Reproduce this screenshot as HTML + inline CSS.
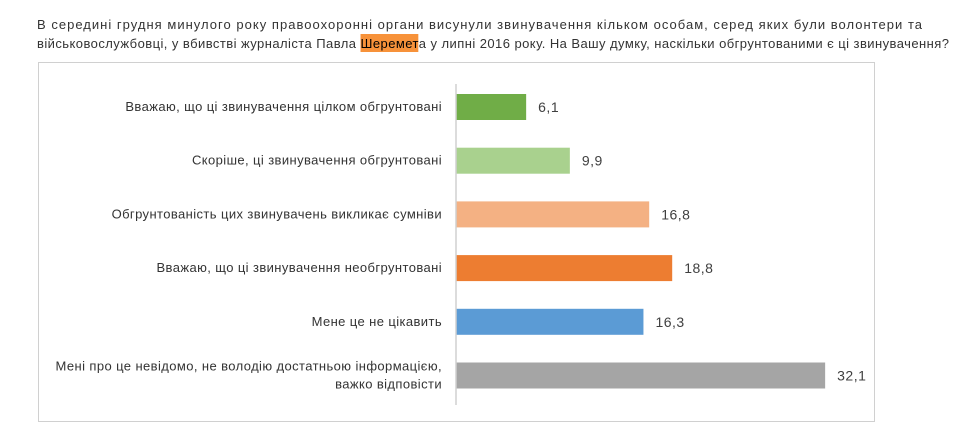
<!DOCTYPE html>
<html><head><meta charset="utf-8"><style>
body{margin:0;width:964px;height:435px;background:#fff;font-family:"Liberation Sans",sans-serif;overflow:hidden;position:relative}
#box{position:absolute;left:38px;top:62px;width:837px;height:360px;border:1px solid #d0d0d0;box-sizing:border-box}
</style></head><body>
<div id="box"></div>
<svg id="chart" width="964" height="435" style="position:absolute;left:0;top:0">
<rect id="hl" x="0" y="34" width="0" height="18" fill="#f7923a"/>
<text font-size="13" fill="#333">
<tspan id="t1" x="37" y="29" textLength="885" lengthAdjust="spacing">В середині грудня минулого року правоохоронні органи висунули звинувачення кільком особам, серед яких були волонтери та</tspan>
<tspan id="t2" x="37" y="48" textLength="912" lengthAdjust="spacing">військовослужбовці, у вбивстві журналіста Павла <tspan id="nm" fill="#000">Шеремет</tspan>а у липні 2016 року. На Вашу думку, наскільки обгрунтованими є ці звинувачення?</tspan>
</text>
</svg>
<script>
const categories=[["Вважаю, що ці звинувачення цілком обгрунтовані"],["Скоріше, ці звинувачення обгрунтовані"],["Обгрунтованість цих звинувачень викликає сумніви"],["Вважаю, що ці звинувачення необгрунтовані"],["Мене це не цікавить"],["Мені про це невідомо, не володію достатньою інформацією,","важко відповісти"]];
const values=[6.1,9.9,16.8,18.8,16.3,32.1];
const labels=["6,1","9,9","16,8","18,8","16,3","32,1"];
const colors=["#70ad47","#a9d18e","#f4b183","#ed7d31","#5b9bd5","#a5a5a5"];
const svg=document.getElementById('chart');
const NS="http://www.w3.org/2000/svg";
const x0=456,scale=11.5,top0=94,step=53.7,bh=26;
function xs(v){return x0+v*scale;}
function yc(i){return top0+i*step;}
function mk(t,a){const e=document.createElementNS(NS,t);for(const k in a)e.setAttribute(k,a[k]);svg.appendChild(e);return e;}
values.forEach((v,i)=>{
 const r=mk('rect',{x:x0,y:yc(i),width:xs(v)-x0,height:bh,fill:colors[i]});
 
 
 const t=mk('text',{x:xs(v)+12,y:yc(i)+bh/2+5,'font-size':14,'letter-spacing':0.5,fill:'#404040'});
 t.textContent=labels[i];
 
 
 const lines=categories[i];
 const c=mk('text',{x:442,'text-anchor':'end','font-size':13,'letter-spacing':0.4,fill:'#333'});
 
 
 lines.forEach((l,j)=>{const ts=document.createElementNS(NS,'tspan');ts.setAttribute('x',442);ts.setAttribute('y',yc(i)+bh/2+4+(j-(lines.length-1)/2)*18);ts.textContent=l;c.appendChild(ts);});
});
const ax=mk('line',{x1:x0,x2:x0,y1:84,y2:405,stroke:'#d0d0d0','stroke-width':1.5});


try{
 const t2=document.getElementById('t2');
 const txt=t2.textContent;const s=txt.indexOf('Шеремет');
 const a=t2.getExtentOfChar(s),b=t2.getExtentOfChar(s+6);
 const hl=document.getElementById('hl');
 hl.setAttribute('x',a.x);hl.setAttribute('width',b.x+b.width-a.x);
}catch(e){const hl=document.getElementById('hl');hl.setAttribute('x',358);hl.setAttribute('width',52);}
</script>
</body></html>
